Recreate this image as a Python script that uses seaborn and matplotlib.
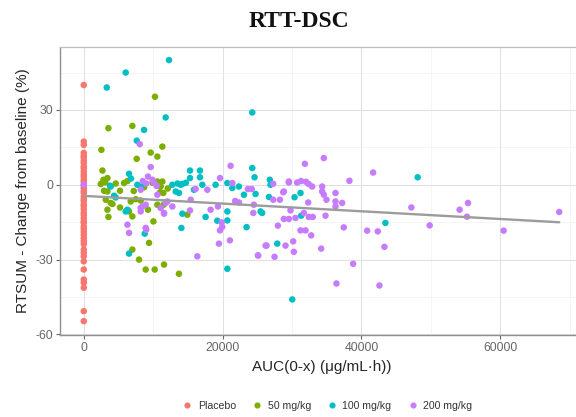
import matplotlib
matplotlib.use('Agg')
import matplotlib.pyplot as plt
from matplotlib.lines import Line2D
from matplotlib.ticker import MultipleLocator
import seaborn as sns
import pandas as pd

# ---------------- data ----------------
groups = ['Placebo', '50 mg/kg', '100 mg/kg', '200 mg/kg']
colors = ['#F8766D', '#7CAE00', '#00BFC4', '#C77CFF']

placebo_y = [40, 17.3, 16, 12.8, 11.6, 10.9, 9.7, 8.8, 7.4, 6.6, 5.3, 4.1, 3.2,
             2.0, 1.1, -0.3, -1.4, -2.6, -3.3, -4.7, -5.8, -6.5, -7.9, -8.6, -9.8,
             -11.2, -12.1, -13.4, -14.6, -15.3, -16.8, -17.7, -18.9, -20.1, -21.4,
             -22.6, -23.8, -26, -27.3, -28.7, -30.7, -34, -38, -39.3, -41.3,
             -50.7, -54.7]
placebo_x = [0] * len(placebo_y)

mg50_x = [2540, 3550, 7000, 7625, 9640, 10600, 11320, 10259, 2690, 2830, 3410,
          3100, 2450, 5800, 10600, 11080, 11320, 11460, 2920, 3410, 3170, 4130,
          3880, 3410, 3550, 5220, 5220, 6760, 7500, 8200, 6520, 7000, 9250, 10030,
          10600, 11000, 11500, 9400, 7000, 7960, 8920, 10215, 11560, 13710, 14920,
          4600, 6300, 8700, 9900, 7200, 12100]
mg50_y = [14, 22.7, 23.6, 10.4, 12.9, 11.3, 15.3, 35.3, 5.7, 2.0, 2.7, 1.0, 0.3,
          0.7, 1.3, -0.7, 1.3, -3.3, -2.4, -2.7, -6.0, -7.7, -7.3, -10.0, -12.9,
          -9.1, -2.4, -6.7, -5.8, -6.3, -10.7, -12.7, -10.0, -14.7, -8.0, -3.0,
          -8.0, -23.3, -26.0, -30.0, -34.0, -34.0, -32.0, -35.7, -12.0, 0.5, 1.5,
          -1.0, 0.8, -2.5, -1.5]

mg100_x = [12280, 6040, 3310, 11800, 8680, 7630, 6520, 6800, 3790, 7720, 8300,
           24270, 15300, 15300, 16740, 16740, 24270, 24600, 26800, 13960, 12760,
           13500, 14200, 14700, 13240, 13720, 17080, 15870, 18990, 20680, 21400,
           22350, 23070, 24750, 26900, 26670, 25470, 25700, 20680, 20680, 19230,
           17550, 14200, 14060, 23450, 27870, 20680, 30030, 30360, 31220, 31320,
           43450, 48100, 4360, 6040, 6520, 8780, 3880, 4600, 6290]
mg100_y = [50, 45, 39, 27, 22, 17.7, 4.4, 2.5, -0.4, 0, -0.8, 29, 5.7, 2.7, 5.7,
           3.0, 6.7, 3.0, 2.0, 0, 0, 0.5, 0.3, 0.8, -2.7, -3.3, 0, -2.0, 0, 0.7,
           -1.3, -0.7, -4.0, -3.7, 0, -4.9, -10.7, -11.3, -10.7, -14.3, -14.4,
           -12.9, -11.6, -17.3, -17.0, -23.6, -33.7, -46, -5.0, -3.3, -12.4,
           -15.3, 3.0, -4.4, -10.7, -27.6, -19.6, -0.7, -5.1, -10.0]

mg200_x = [0, 8060, 9640, 9250, 8500, 10100, 10500, 8200, 10600, 12040, 11080,
           8200, 8920, 8440, 8200, 11560, 6290, 6520, 8920, 9000, 16360, 21150,
           19620, 21400, 16120, 17800, 15400, 11800, 12760, 11560, 15300, 18270,
           19330, 22350, 21800, 23640, 24200, 24500, 24420, 19860, 19950, 19620,
           21050, 19470, 25080, 26330, 27480, 29060, 27960, 28820, 27290, 28250,
           28730, 29540, 27290, 34580, 31850, 41680, 38270, 29540, 30740, 31300,
           32000, 32400, 32900, 34340, 34340, 34580, 36260, 36260, 37220, 36260,
           34960, 32330, 28820, 29780, 29540, 30500, 31700, 32420, 32990, 34820,
           31220, 31940, 32760, 30170, 30260, 34200, 37450, 38800, 36400, 42590,
           40820, 42350, 43310, 47190, 49830, 54140, 55350, 55200, 60480, 68490,
           25130, 26190, 9000, 9900]
mg200_y = [0, 16.3, 7.1, 3.3, 1.5, 0.8, -0.5, -2.0, -4.0, -6.7, -9.3, -9.3, -8.0,
           -8.7, -10.7, -11.3, -16, -19.3, -17.3, -18.0, -28.7, 7.6, 2.7, 0.7,
           -1.7, -2.0, -6.0, -7.3, -8.7, -11.6, -10.3, -10.0, -8.7, -7.1, -6.5,
           -1.7, -1.7, -8.0, -11.3, -15.1, -16.9, -18.3, -22.3, -23.6, -28.3,
           -24.4, -28.9, -24.4, -16.4, -13.7, -6.0, -6.0, -3.0, 0.9, 0.4, 10.7,
           8.4, 4.9, 1.6, 1.3, 0.9, 1.5, 1.2, 0.3, -0.7, -0.7, -2.7, -4.0, -3.3,
           -6.7, -7.3, -8.7, -6.0, -7.1, -2.7, -10.3, -13.7, -13.3, -11.3, -12.9,
           -12.9, -12.4, -18.3, -18.3, -20.3, -22.7, -26.9, -25.6, -17.1, -31.7,
           -39.6, -40.4, -18.4, -18.7, -24.9, -9.1, -16.3, -10.0, -7.3, -12.8,
           -18.4, -10.9, -28.4, -24.4, 0.5, 2.0]

x_ticks = [0, 20000, 40000, 60000]
y_ticks = [-60, -30, 0, 30]

# ---------------- build table ----------------
frames = []
for g, xs, ys in zip(groups,
                     [placebo_x, mg50_x, mg100_x, mg200_x],
                     [placebo_y, mg50_y, mg100_y, mg200_y]):
    frames.append(pd.DataFrame({'auc': xs, 'chg': ys, 'group': g}))
df = pd.concat(frames, ignore_index=True)

# ---------------- plot ----------------
sns.set_theme(style='white')
plt.rcParams['font.family'] = ['Liberation Sans', 'DejaVu Sans']

fig = plt.figure(figsize=(5.76, 4.17), dpi=100)
ax = fig.add_axes([60 / 576, 82 / 417, 523 / 576, 288 / 417])

sns.scatterplot(data=df, x='auc', y='chg', hue='group', hue_order=groups,
                palette=colors, s=22, linewidth=0, ax=ax, legend=False,
                zorder=3)
sns.regplot(data=df, x='auc', y='chg', scatter=False, ci=None, truncate=True,
            color='#9c9c9c', line_kws={'lw': 1.7, 'zorder': 4}, ax=ax)

ax.set_xlim(-3424, 71914)
ax.set_ylim(-60.25, 55.25)
ax.set_xticks(x_ticks)
ax.set_xticklabels([str(v) for v in x_ticks])
ax.set_yticks(y_ticks)
ax.set_yticklabels([str(v) for v in y_ticks])
ax.xaxis.set_minor_locator(MultipleLocator(10000))
ax.yaxis.set_minor_locator(MultipleLocator(15))
ax.set_axisbelow(True)
ax.grid(which='major', color='#e0e0e0', lw=0.75)
ax.grid(which='minor', color='#f0f0f0', lw=0.45)
ax.tick_params(which='major', length=3, width=0.8, color='#666666',
               labelsize=8.8, labelcolor='#666666', direction='out',
               left=True, bottom=True, pad=2)
ax.tick_params(which='minor', length=0)
for side in ['left', 'bottom']:
    ax.spines[side].set_color('#8f8f8f')
    ax.spines[side].set_linewidth(1.0)
for side in ['top', 'right']:
    ax.spines[side].set_color('#bdbdbd')
    ax.spines[side].set_linewidth(0.9)

ax.set_xlabel('AUC(0-x) (μg/mL·h))', fontsize=11, color='#262626', labelpad=4)
ax.set_ylabel('RTSUM - Change from baseline (%)', fontsize=11,
              color='#262626', labelpad=4)

fig.text(298.5 / 576, 1 - 27 / 417, 'RTT-DSC', ha='center', va='baseline',
         fontsize=17, fontweight='bold', family='Liberation Serif',
         color='#111111')

handles = [Line2D([], [], marker='o', ls='', color=c, markersize=3.4)
           for c in colors]
fig.legend(handles, groups, loc='center', bbox_to_anchor=(327 / 576, 1 - 406 / 417),
           ncol=4, frameon=False, fontsize=7.6, handletextpad=0.5,
           columnspacing=1.5, handlelength=1.0, labelcolor='#333333')

fig.savefig('out.png', dpi=100)
